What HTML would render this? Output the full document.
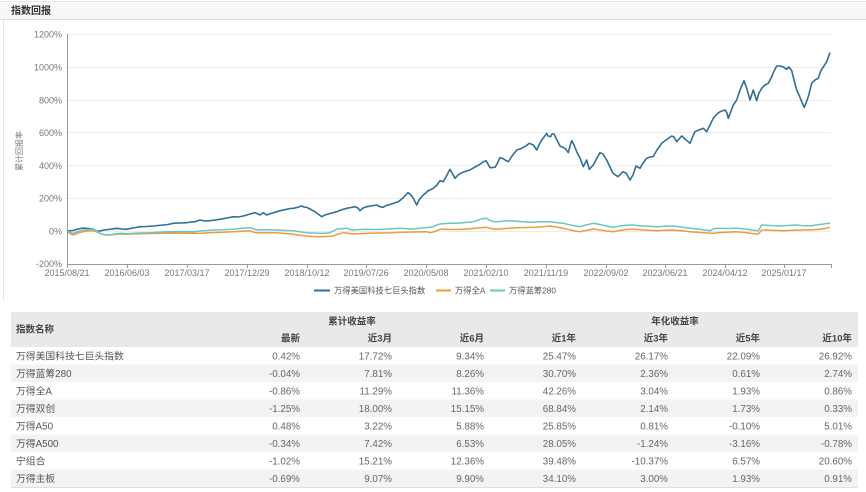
<!DOCTYPE html>
<html><head><meta charset="utf-8">
<style>
html,body{margin:0;padding:0;background:#fff;}
svg{display:block;}
text{font-family:"Liberation Sans","Noto Sans CJK SC",sans-serif;}
</style></head>
<body>
<svg width="866" height="492" viewBox="0 0 866 492" xmlns="http://www.w3.org/2000/svg">
<rect x="0" y="0" width="866" height="492" fill="#fff"/>
<!-- title bar -->
<rect x="0" y="1" width="866" height="18" fill="#f8f8f8"/>
<line x1="0" y1="1.5" x2="866" y2="1.5" stroke="#e6e6e6" stroke-width="1"/>
<line x1="0" y1="19.5" x2="866" y2="19.5" stroke="#dcdcdc" stroke-width="1"/>
<line x1="3.5" y1="19.5" x2="3.5" y2="300" stroke="#e2e2e2" stroke-width="1"/>
<text x="11" y="14" font-size="10" font-weight="bold" fill="#333">指数回报</text>

<!-- grid -->
<g stroke="#ececec" stroke-width="1">
<line x1="67" y1="34.5" x2="831" y2="34.5"/>
<line x1="67" y1="67.5" x2="831" y2="67.5"/>
<line x1="67" y1="100.5" x2="831" y2="100.5"/>
<line x1="67" y1="132.5" x2="831" y2="132.5"/>
<line x1="67" y1="165.5" x2="831" y2="165.5"/>
<line x1="67" y1="198.5" x2="831" y2="198.5"/>
<line x1="67" y1="231.5" x2="831" y2="231.5"/>
</g>
<!-- axes -->
<line x1="67.5" y1="34" x2="67.5" y2="264" stroke="#999" stroke-width="1"/>
<line x1="67" y1="264.5" x2="832" y2="264.5" stroke="#999" stroke-width="1"/>
<g stroke="#999" stroke-width="1">
<line x1="67.5" y1="264" x2="67.5" y2="268"/>
<line x1="127.5" y1="264" x2="127.5" y2="268"/>
<line x1="187.5" y1="264" x2="187.5" y2="268"/>
<line x1="247.5" y1="264" x2="247.5" y2="268"/>
<line x1="307.5" y1="264" x2="307.5" y2="268"/>
<line x1="366.5" y1="264" x2="366.5" y2="268"/>
<line x1="426.5" y1="264" x2="426.5" y2="268"/>
<line x1="486.5" y1="264" x2="486.5" y2="268"/>
<line x1="546.5" y1="264" x2="546.5" y2="268"/>
<line x1="606.5" y1="264" x2="606.5" y2="268"/>
<line x1="665.5" y1="264" x2="665.5" y2="268"/>
<line x1="725.5" y1="264" x2="725.5" y2="268"/>
<line x1="784.5" y1="264" x2="784.5" y2="268"/>
<line x1="831.5" y1="264" x2="831.5" y2="268"/>
</g>
<!-- y labels -->
<g font-size="9" fill="#777" text-anchor="end">
<text x="62" y="37.5">1200%</text>
<text x="62" y="70.5">1000%</text>
<text x="62" y="103.5">800%</text>
<text x="62" y="136">600%</text>
<text x="62" y="169">400%</text>
<text x="62" y="201.5">200%</text>
<text x="62" y="234.5">0%</text>
<text x="62" y="267">-200%</text>
</g>
<text transform="translate(22,151) rotate(-90)" font-size="8" fill="#777" text-anchor="middle">累计回报率</text>
<!-- x labels -->
<g font-size="9" fill="#777" text-anchor="middle">
<text x="67" y="276">2015/08/21</text>
<text x="127" y="276">2016/06/03</text>
<text x="187" y="276">2017/03/17</text>
<text x="247" y="276">2017/12/29</text>
<text x="307" y="276">2018/10/12</text>
<text x="366" y="276">2019/07/26</text>
<text x="426" y="276">2020/05/08</text>
<text x="486" y="276">2021/02/10</text>
<text x="546" y="276">2021/11/19</text>
<text x="606" y="276">2022/09/02</text>
<text x="665" y="276">2023/06/21</text>
<text x="725" y="276">2024/04/12</text>
<text x="784" y="276">2025/01/17</text>
</g>

<!-- series -->
<polyline fill="none" stroke="#2f6f98" stroke-width="1.6" stroke-linejoin="round" points="66.7,231 73,230.5 78,229 83,228 88,228.5 93,229 97,231 100,231 104,230 110,229.3 116.7,228.3 122,229 126.7,229.3 133,228 140,226.7 147,226.5 153.3,226 158,225.5 163.3,225 168,224.5 173.3,223.3 180,223 186.7,222.7 191,222 195,221.7 200,220 205,221 210,220.7 215,220 220,219.3 227,218 233.3,216.7 238,217 243.3,216 250,214 255,212.7 260,215 263.3,212.7 266.7,215 271,213.5 276.7,211.7 281,210.5 286.7,209.3 290,208.5 293.3,208.3 297,207.5 301.7,206 304,207 306.7,207.3 310,209 315,211.7 318,214 321.7,216.7 325,215 328.3,214 332,213 336.7,211.7 341,210 346.7,208.3 351,207.5 355,206.7 358,208 360,210.7 363,208 366.7,206.7 371,206 376.7,205 380,206.7 383.3,207.3 386,205.5 388.3,205 393,203.5 398.3,201.7 403,198 408,192.5 411,195 413.3,198.3 416.7,205 419,200 423.3,195 428,191 433.3,188.3 437,185 440,180.7 443.3,181.7 447,175 450,169.3 452,173 455,178.3 458,175 461.7,172.7 465,171.5 470,170 475,167 480,164.3 483,162 486,160.7 488,164 490,167.7 495,167.3 497,164 500,157.7 503,158.5 505,160 508.3,161.7 512,156 516.7,150 520,149 523.3,147.3 526,146 529.3,143.3 533.3,145 536.7,150 539,145 541.7,140 544,137 546.7,133.3 548,136 550.7,136.7 552,134 554,134 556,138 560,146 565,148.3 568.3,152.7 570,146 571.7,140.7 574,145 576.7,151.7 580,158 583.3,166.7 586.7,160 589.3,169.3 593.3,165 597,158 600,152.7 603,154 606.7,160 610,167 612.7,172.7 614,174 618,176.7 623,171.7 626,173 630,180 633,175 636,166 640,168.3 643,163 646.7,158.3 650,157 653,156.7 657,150 661.7,143.3 666,140 671.7,136 674,137 676.7,141.7 679,139 681.7,136 685,139 690,143.3 693,136 695,131.7 699,130 703.3,128.3 706.7,131.7 710,125 713.3,118.3 717,114 720,111.7 725,110 727,113 728.3,118.3 731,111 733.3,105 736.7,100 740,90 744,80.7 746.7,88.3 750,100 753.3,90 756.7,100.7 759,93 761.7,88.3 765,85 768.3,83.3 771.7,76.7 774,71 776.7,66 780,66 782.7,66.7 786.7,69.3 789,67 791.7,70.7 794,80 796.7,90 799,95 801.7,101.7 804.3,107.3 806,103 808.3,96.7 810,90 811.7,83.3 815,80 818.3,78.3 820,73 821.7,69.3 824,66 826.7,61.7 828,58 830,52.7"/>
<polyline fill="none" stroke="#ef9a3c" stroke-width="1.5" stroke-linejoin="round" points="66.7,231.7 70,233.5 73,235 78,233 83,231.7 88,231 93,230.7 97,232 100,233.3 103,234.5 106.7,235 112,234.8 120,234 127,234.2 133,234 140,233.8 150,233.5 166.7,233.3 185,233.2 200,233.3 215,232.5 233,231.7 242,231.2 250,230.7 253,232 256.7,232.7 265,232.8 276.7,232.7 285,233.5 293.3,234.3 300,235.2 306.7,236 313,236.5 320,236.7 327,236.5 333.3,236 338,234 343.3,232.7 348,233.3 353.3,234 360,233.6 366.7,233.3 380,233 392,232.8 400,232.3 413,232 426.7,231.7 430,232.7 435,231.5 440,229.3 443.3,229.3 455,229.5 463.3,229.3 475,228.3 486.7,227.3 490,228.5 496.7,229.3 505,228.5 516.7,227.7 526,227.5 536.7,227.3 543,226.8 550,226 556,227 563.3,228.3 570,229.8 575,231 580,231.7 586,230.5 593.3,229 600,230 606,231 613.3,231.7 620,230.5 626,229.5 633.3,229.3 645,230 656.7,230.7 665,230.3 673.3,230 681,230.8 690,231.7 700,232.5 713.3,233.3 720,232.5 736.7,231.7 745,232.5 752,233.5 758.3,234 760,232 761.7,230 770,230.3 783.3,230.7 793,230.3 803.3,230 812,229.7 820,229.3 825,228.5 830,227.3"/>
<polyline fill="none" stroke="#6cc6c0" stroke-width="1.5" stroke-linejoin="round" points="66.7,231 70,232.5 73,233.3 78,231.5 83,230 88,229.5 93,229.3 97,231 100,233.3 103,234.5 106.7,235 112,234.5 120,233.3 127,233.8 133,233.3 140,233 150,232.7 158,232.2 166.7,231.7 175,231.8 185,231.5 193.3,231.7 200,231 207,230.5 213,230 222,229.8 233,229.3 240,228.5 245,228 250,227.7 254,229 256.7,230 265,229.8 276.7,230 285,230.5 293.3,230.7 300,231.8 306.7,232.7 313,233 320,233.3 325,233.2 330,232.7 333,231 336.7,229.3 341,228.8 346.7,228.3 350,229.5 353.3,230 360,229.5 366.7,229.3 375,229.5 383.3,229.3 392,228.8 400,228.3 405,228.5 410,229.3 415,228.8 420,228.3 427,227.5 433.3,226.7 437,225 440,224 446,223.5 450,223.3 456.7,223.3 465,222.5 473.3,221.7 477,220.5 480,219.3 484,218.5 486.7,218.3 489,220 493.3,221.7 500,221.5 505,221 510,220.7 520,221.5 530,222.3 540,221.8 550,221.7 556,222.5 563.3,223.3 570,224.8 575,226 580,226.7 586,225 593.3,223.3 600,224.5 606,226 613.3,227.3 620,226 626,225.3 633.3,225 640,225.8 648,226.2 656.7,226.7 665,226.3 673.3,226 681,227 690,228.3 698,229 705,230 710,230.7 713,229 716.7,228.3 725,228.5 736.7,228.3 745,229 752,230 758.3,230.7 760,228 761.7,225 770,225.5 780,226 788,225.5 796.7,225 803,225.8 810,226 816,225 823.3,224 830,223.3"/>

<!-- legend -->
<line x1="314" y1="290.5" x2="330" y2="290.5" stroke="#2f6f98" stroke-width="2"/>
<text x="334" y="293.5" font-size="8.3" fill="#555">万得美国科技七巨头指数</text>
<line x1="436" y1="290.5" x2="451" y2="290.5" stroke="#ef9a3c" stroke-width="2"/>
<text x="455" y="293.5" font-size="8.3" fill="#555">万得全A</text>
<line x1="490" y1="290.5" x2="505" y2="290.5" stroke="#6cc6c0" stroke-width="2"/>
<text x="509" y="293.5" font-size="8.3" fill="#555">万得蓝筹280</text>

<!-- table -->
<rect x="11" y="312" width="847" height="35" fill="#e9e9e9"/>
<rect x="11" y="364.5" width="847" height="17.5" fill="#f3f3f3"/>
<rect x="11" y="399.5" width="847" height="17.5" fill="#f3f3f3"/>
<rect x="11" y="434.5" width="847" height="17.5" fill="#f3f3f3"/>
<rect x="11" y="469.5" width="847" height="17.5" fill="#f3f3f3"/>
<line x1="11" y1="487.5" x2="858" y2="487.5" stroke="#dddddd" stroke-width="1"/>

<g font-size="9.5" font-weight="bold" fill="#444">
<text x="16" y="332.5">指数名称</text>
<text x="352" y="324.5" text-anchor="middle">累计收益率</text>
<text x="675" y="324.5" text-anchor="middle">年化收益率</text>
</g>
<g font-size="9.5" font-weight="bold" fill="#444" text-anchor="end">
<text x="300" y="341.5">最新</text>
<text x="392" y="341.5">近3月</text>
<text x="484" y="341.5">近6月</text>
<text x="576" y="341.5">近1年</text>
<text x="668" y="341.5">近3年</text>
<text x="760" y="341.5">近5年</text>
<text x="852" y="341.5">近10年</text>
</g>

<g font-size="9.8" fill="#555">
<text x="16" y="359.5">万得美国科技七巨头指数</text>
<text x="16" y="377">万得蓝筹280</text>
<text x="16" y="394.5">万得全A</text>
<text x="16" y="412">万得双创</text>
<text x="16" y="429.5">万得A50</text>
<text x="16" y="447">万得A500</text>
<text x="16" y="464.5">宁组合</text>
<text x="16" y="482">万得主板</text>
</g>
<g font-size="9.8" fill="#666" text-anchor="end">
<text x="300" y="359.5">0.42%</text><text x="392" y="359.5">17.72%</text><text x="484" y="359.5">9.34%</text><text x="576" y="359.5">25.47%</text><text x="668" y="359.5">26.17%</text><text x="760" y="359.5">22.09%</text><text x="852" y="359.5">26.92%</text>
<text x="300" y="377">-0.04%</text><text x="392" y="377">7.81%</text><text x="484" y="377">8.26%</text><text x="576" y="377">30.70%</text><text x="668" y="377">2.36%</text><text x="760" y="377">0.61%</text><text x="852" y="377">2.74%</text>
<text x="300" y="394.5">-0.86%</text><text x="392" y="394.5">11.29%</text><text x="484" y="394.5">11.36%</text><text x="576" y="394.5">42.26%</text><text x="668" y="394.5">3.04%</text><text x="760" y="394.5">1.93%</text><text x="852" y="394.5">0.86%</text>
<text x="300" y="412">-1.25%</text><text x="392" y="412">18.00%</text><text x="484" y="412">15.15%</text><text x="576" y="412">68.84%</text><text x="668" y="412">2.14%</text><text x="760" y="412">1.73%</text><text x="852" y="412">0.33%</text>
<text x="300" y="429.5">0.48%</text><text x="392" y="429.5">3.22%</text><text x="484" y="429.5">5.88%</text><text x="576" y="429.5">25.85%</text><text x="668" y="429.5">0.81%</text><text x="760" y="429.5">-0.10%</text><text x="852" y="429.5">5.01%</text>
<text x="300" y="447">-0.34%</text><text x="392" y="447">7.42%</text><text x="484" y="447">6.53%</text><text x="576" y="447">28.05%</text><text x="668" y="447">-1.24%</text><text x="760" y="447">-3.16%</text><text x="852" y="447">-0.78%</text>
<text x="300" y="464.5">-1.02%</text><text x="392" y="464.5">15.21%</text><text x="484" y="464.5">12.36%</text><text x="576" y="464.5">39.48%</text><text x="668" y="464.5">-10.37%</text><text x="760" y="464.5">6.57%</text><text x="852" y="464.5">20.60%</text>
<text x="300" y="482">-0.69%</text><text x="392" y="482">9.07%</text><text x="484" y="482">9.90%</text><text x="576" y="482">34.10%</text><text x="668" y="482">3.00%</text><text x="760" y="482">1.93%</text><text x="852" y="482">0.91%</text>
</g>
</svg>
</body></html>
